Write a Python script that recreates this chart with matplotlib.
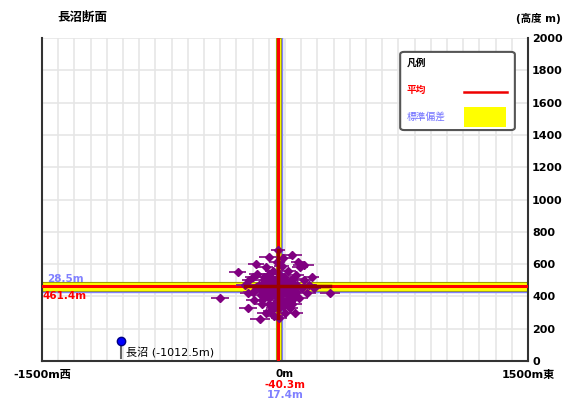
import numpy as np
import matplotlib.pyplot as plt
from matplotlib.patches import FancyBboxPatch, Rectangle

FONT = ['DejaVu Sans', 'Noto Sans CJK JP']
plt.rcParams['font.family'] = FONT

# 平均・標準偏差
mean_x, std_x = -40.3, 17.4
mean_y, std_y = 461.4, 28.5

# 観測点
station_name = '長沼'
station_x, station_y = -1012.5, 125

# 震源 (水平位置 m, 高度 m, 水平誤差 m)
pt_x = [-401, -293, -228, -154, -37, -43, -99, 43, 117, 278, -180, 60,
        -250, -220, -200, -190, -170, -160, -150, -140, -130, -120, -110, -100,
        -95, -90, -80, -75, -70, -60, -55, -50, -45, -40, -35, -30, -25, -20,
        -15, -10, -5, 0, 10, 20, 25, 35, 45, 55, 65, 75, 85, 95, 105, 120,
        135, 150, 165, 180, -230, -180, -140, -110, -65, -120, 30, -200, 80, -10,
        -150, -130, -110, -90, -70, -50, -30, -10, 10, 30, 50, 70,
        -140, -120, -100, -80, -60, -40, -20, 0, 20, 40, 60,
        -130, -105, -85, -65, -45, -25, -5, 15, 35, 55,
        -100, -70, -40, -10, 20]
pt_y = [390, 551, 328, 262, 266, 685, 644, 656, 594, 424, 600, 300,
        470, 500, 430, 380, 540, 470, 410, 350, 500, 580, 440, 390,
        520, 310, 470, 560, 420, 360, 500, 610, 450, 330, 540, 400, 480, 590,
        370, 440, 520, 300, 460, 560, 400, 500, 350, 440, 530, 470, 390, 580, 450, 500,
        420, 470, 520, 450, 420, 460, 470, 500, 280, 300, 330, 520, 610, 640,
        440, 520, 470, 410, 500, 430, 460, 510, 420, 480, 510, 430,
        380, 450, 540, 500, 470, 520, 420, 490, 440, 400, 470,
        420, 400, 430, 450, 390, 360, 470, 380, 450, 390,
        350, 330, 380, 340, 360]
pt_err = [55, 50, 55, 60, 50, 45, 60, 60, 65, 60, 50, 50,
          55, 45, 60, 50, 55, 45, 60, 50, 55, 45, 60, 50,
          55, 45, 60, 50, 55, 45, 60, 50, 55, 45, 60, 50, 55, 45,
          60, 50, 55, 45, 60, 50, 55, 45, 60, 50, 55, 45, 60, 50, 55, 45,
          55, 50, 45, 45, 50, 55, 55, 50, 50, 50, 50, 50, 45, 45,
          55, 50, 60, 50, 55, 50, 60, 50, 55, 50, 60, 50,
          50, 55, 50, 55, 50, 55, 50, 55, 50, 55, 50,
          50, 45, 50, 45, 50, 45, 50, 45, 50, 45,
          50, 45, 50, 45, 50]

x_ticks = list(range(-1500, 1501, 100))
y_ticks = list(range(0, 2001, 200))

fig = plt.figure(figsize=(5.7, 4.0), dpi=100)
ax = fig.add_axes([0.0737, 0.0975, 0.8526, 0.8075])
ax.set_xlim(-1500, 1500)
ax.set_ylim(0, 2000)

# グリッド
for xv in x_ticks:
    ax.axvline(xv, color='#e6e6e6', lw=1.2, zorder=0)
for yv in y_ticks:
    ax.axhline(yv, color='#e6e6e6', lw=1.2, zorder=0)

ax.set_xticks([])
ax.yaxis.tick_right()
ax.set_yticks(y_ticks)
ax.set_yticklabels([str(v) for v in y_ticks], fontsize=8, fontweight='bold')
ax.tick_params(axis='y', length=0, pad=3)
ax.spines['top'].set_visible(False)
for s in ['left', 'right', 'bottom']:
    ax.spines[s].set_color('#333333')
    ax.spines[s].set_linewidth(1.5)

# 標準偏差の帯と平均線
ax.axvspan(mean_x - std_x, mean_x + std_x, facecolor='#ffff00', edgecolor='#a0a000', lw=0.8, zorder=2)
ax.axhspan(mean_y - std_y, mean_y + std_y, facecolor='#ffff00', edgecolor='#a0a000', lw=0.8, zorder=2)
ax.axvline(mean_x + std_x + 6, color='#8080ff', lw=1.0, zorder=2)
ax.axhline(mean_y - std_y - 6, color='#8080ff', lw=1.0, zorder=2)
ax.axvline(mean_x, color='red', lw=2.2, zorder=3)
ax.axhline(mean_y, color='red', lw=2.2, zorder=3)

# 震源
ax.errorbar(pt_x, pt_y, xerr=pt_err, fmt='D', color='#800080', ms=4.5,
            mec='#800080', ecolor='#8a1a8a', elinewidth=1.3, capsize=0, zorder=4)

# 震源と重なる部分の平均線
px = np.array(pt_x)
py = np.array(pt_y)
near_h = px[np.abs(py - mean_y) < 60]
near_v = py[np.abs(px - mean_x) < 60]
ax.plot([near_h.min(), near_h.max()], [mean_y, mean_y], color='#9a0000', lw=2.5, zorder=5)
ax.plot([mean_x, mean_x], [near_v.min(), near_v.max()], color='#9a0000', lw=2.5, zorder=5)

# 観測点
ax.plot([station_x, station_x], [20, station_y], color='#666666', lw=1.5, zorder=5)
ax.plot(station_x, station_y, 'o', color='#0000ff', mec='#000080', ms=6, zorder=6)
ax.text(station_x + 30, 55, f'{station_name} ({station_x}m)', fontsize=8,
        va='center', ha='left', family=FONT)

# 帯のラベル
ax.text(-1470, 510, f'{std_y}m', color='#8080ff', fontsize=7.5,
        fontweight='bold', ha='left', va='center')
ax.text(-1500, mean_y - 60, f'{mean_y}m', color='red', fontsize=7.5,
        fontweight='bold', ha='left', va='center')

# 下のラベル
ax.text(0, -80, '0m', fontsize=7.5, fontweight='bold', ha='center', va='center')
ax.text(0, -148, f'{mean_x}m', color='red', fontsize=7.5, fontweight='bold', ha='center', va='center')
ax.text(0, -212, f'{std_x}m', color='#8080ff', fontsize=7.5, fontweight='bold', ha='center', va='center')
ax.text(-1500, -88, '-1500m西', fontsize=8, fontweight='bold', ha='center', va='center', family=FONT)
ax.text(1500, -88, '1500m東', fontsize=8, fontweight='bold', ha='center', va='center', family=FONT)

# タイトル
fig.text(0.10, 0.957, '長沼断面', fontsize=9, fontweight='bold', ha='left', va='center', family=FONT)
fig.text(0.905, 0.955, '(高度 m)', fontsize=7.5, fontweight='bold', ha='left', va='center', family=FONT)

# 凡例
box = FancyBboxPatch((0.737, 0.715), 0.236, 0.242, boxstyle='round,pad=0,rounding_size=0.008',
                     transform=ax.transAxes, facecolor='white', edgecolor='#555555', lw=1.5, zorder=7)
ax.add_patch(box)
ax.text(0.75, 0.925, '凡例', transform=ax.transAxes, fontsize=7, fontweight='bold',
        va='center', ha='left', zorder=8, family=FONT)
ax.text(0.75, 0.84, '平均', transform=ax.transAxes, fontsize=7, fontweight='bold', color='red',
        va='center', ha='left', zorder=8, family=FONT)
ax.plot([0.868, 0.956], [0.832, 0.832], transform=ax.transAxes, color='#ee0000', lw=1.8, zorder=8)
ax.text(0.75, 0.755, '標準偏差', transform=ax.transAxes, fontsize=7, color='#7070ff',
        va='center', ha='left', zorder=8, family=FONT)
ax.add_patch(Rectangle((0.868, 0.725), 0.086, 0.062, transform=ax.transAxes,
                       facecolor='#ffff00', edgecolor='none', zorder=8))

fig.savefig('out.png', dpi=100)
